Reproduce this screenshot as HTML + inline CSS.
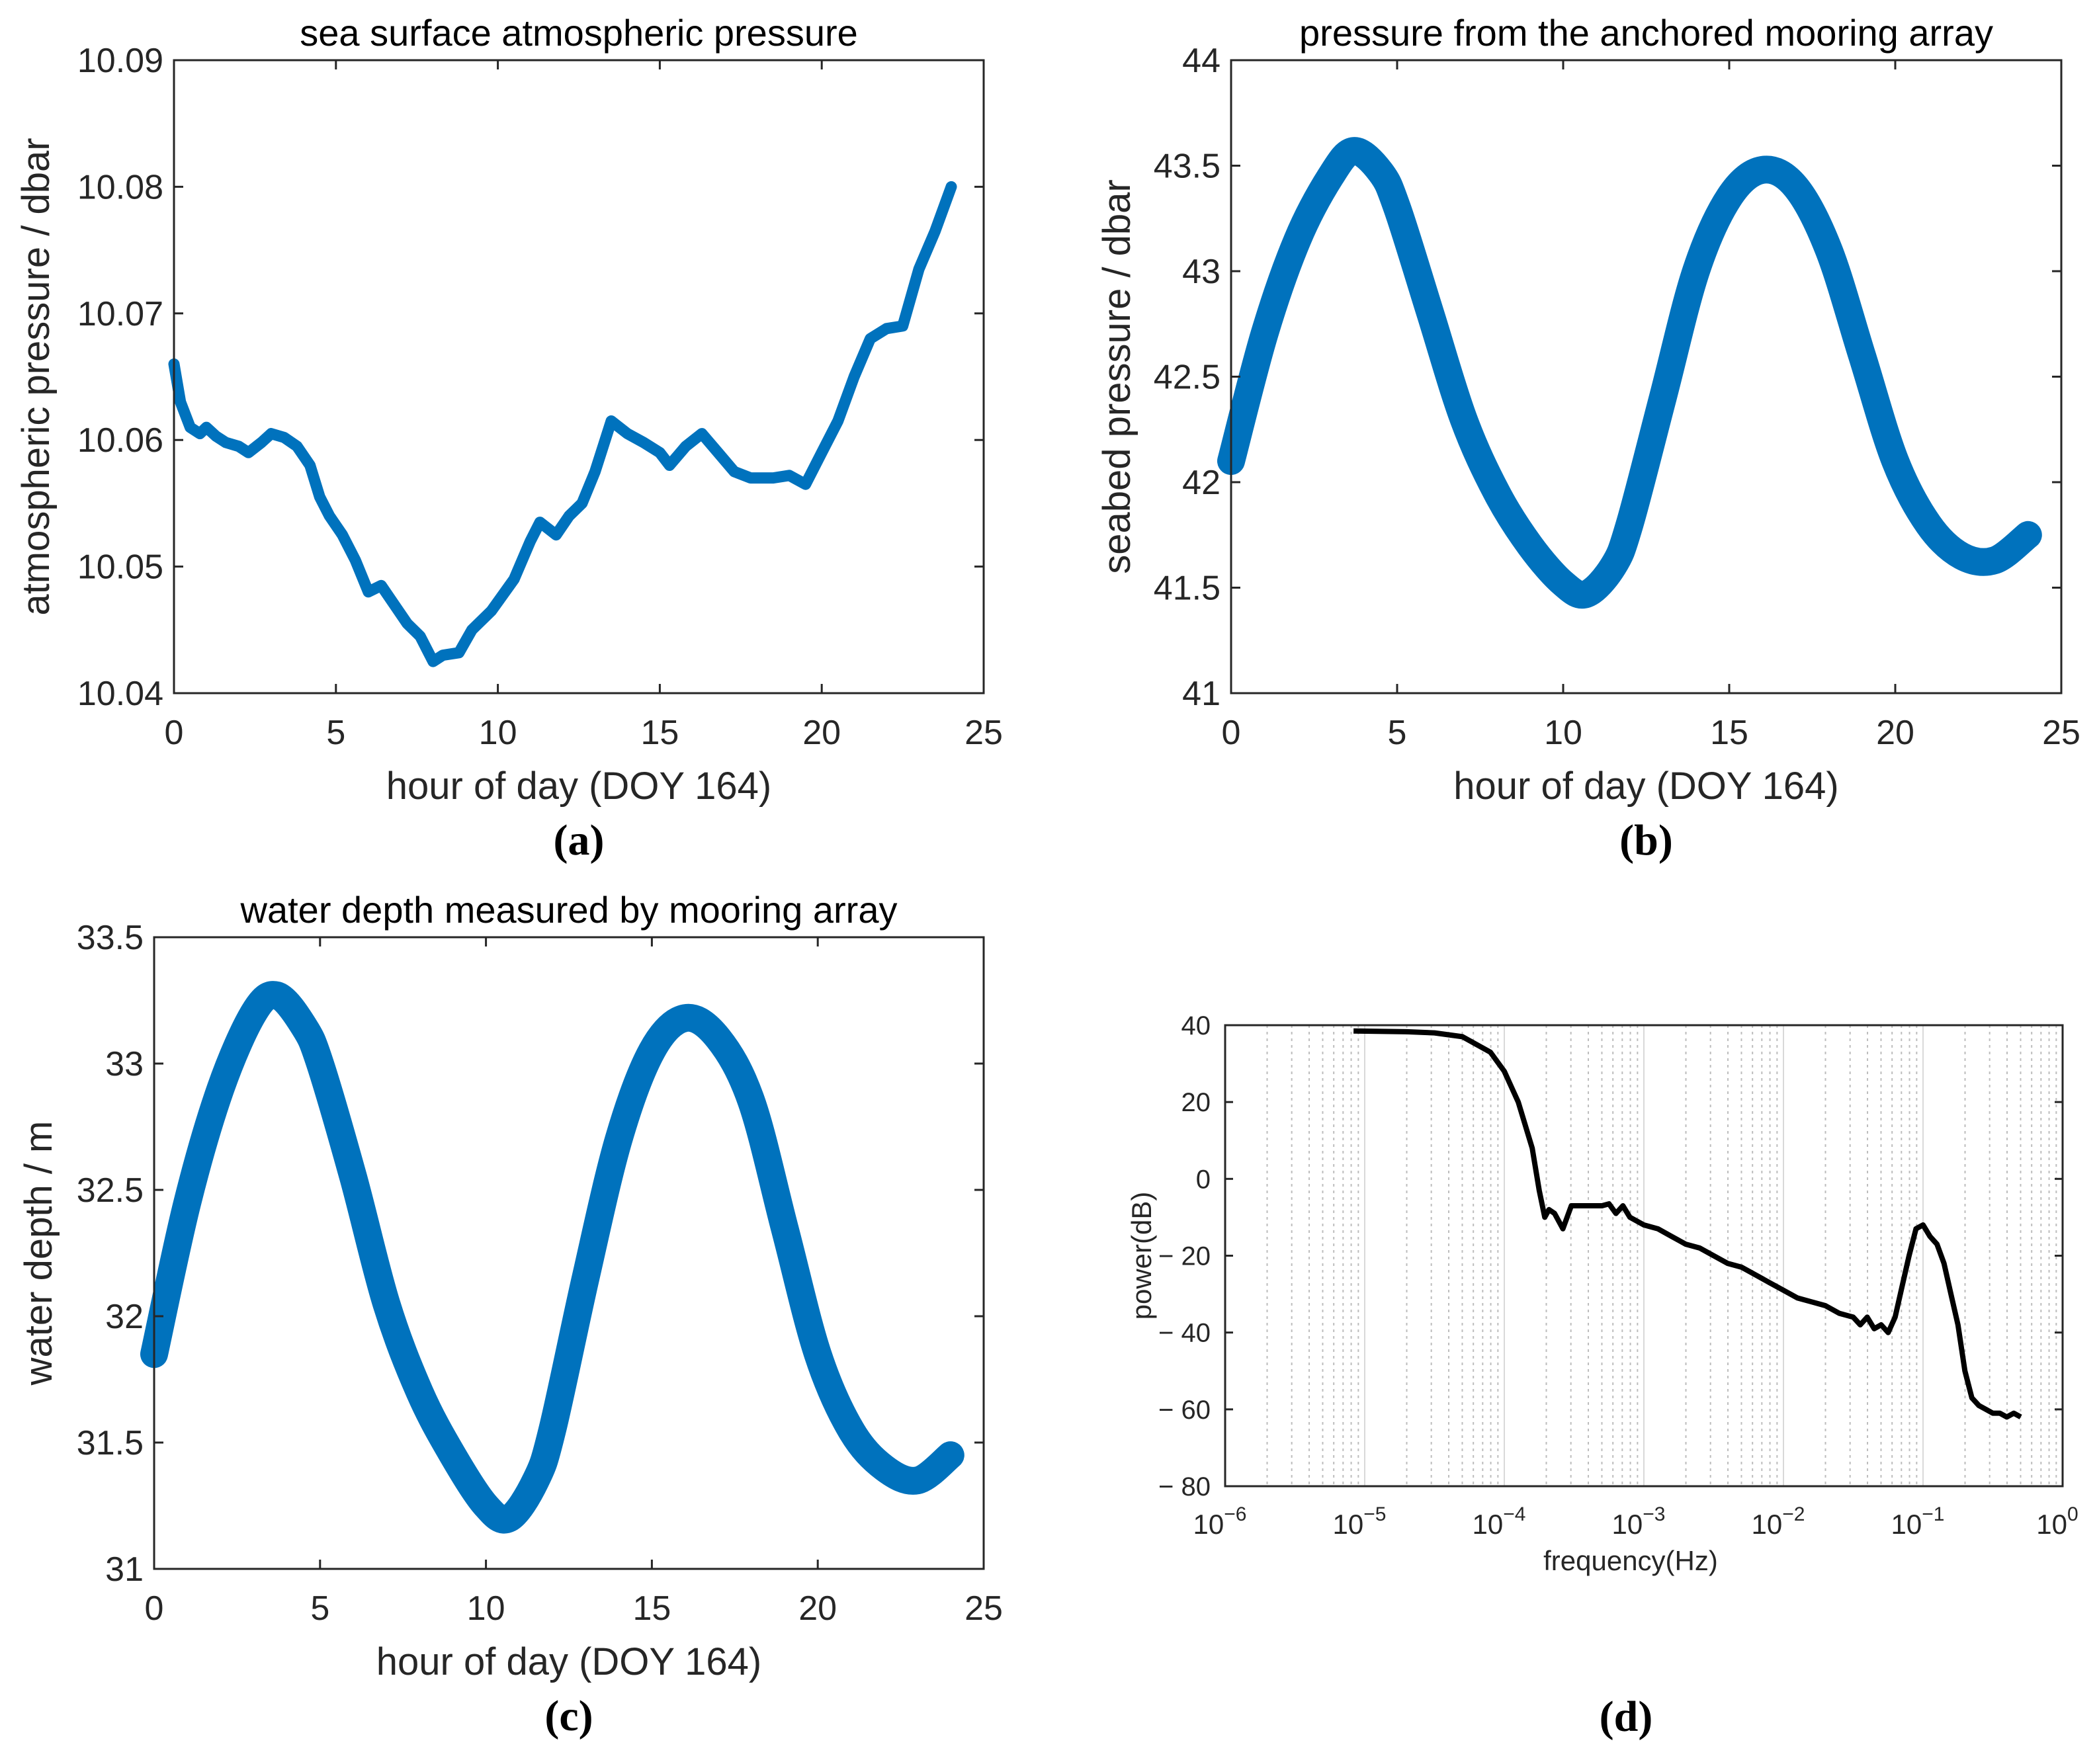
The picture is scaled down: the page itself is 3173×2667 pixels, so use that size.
<!DOCTYPE html>
<html><head><meta charset="utf-8"><style>
html,body{margin:0;padding:0;background:#fff;}
svg{display:block;font-family:"Liberation Sans",Arial,sans-serif;}
</style></head><body>
<svg id="fig" width="3173" height="2667" viewBox="0 0 3173 2667" xmlns="http://www.w3.org/2000/svg"></svg>
<script>
// ---- Panel (a) data ----
const aHours=[0,0.2,0.5,0.8,1,1.3,1.6,2,2.3,2.7,3,3.4,3.8,4.2,4.5,4.8,5.2,5.6,6,6.4,6.8,7.2,7.6,8,8.3,8.8,9.2,9.8,10.5,11,11.3,11.8,12.2,12.6,13,13.5,14,14.5,15,15.3,15.8,16.3,16.8,17.3,17.8,18.5,19,19.5,20,20.5,21,21.5,22,22.5,23,23.5,24];
const aValues=[10.066,10.063,10.061,10.0605,10.061,10.0603,10.0598,10.0595,10.059,10.0598,10.0605,10.0602,10.0595,10.058,10.0555,10.054,10.0525,10.0505,10.048,10.0485,10.047,10.0455,10.0445,10.0425,10.043,10.0432,10.045,10.0465,10.049,10.052,10.0535,10.0525,10.054,10.055,10.0575,10.0615,10.0605,10.0598,10.059,10.058,10.0595,10.0605,10.059,10.0575,10.057,10.057,10.0572,10.0565,10.059,10.0615,10.065,10.068,10.0688,10.069,10.0735,10.0765,10.080];
// ---- Panel (b) data ----
const bHours=[0,1,2,3,3.7,4.5,5,6,7,8,9,10,10.7,11.5,12,13,14,15,16,17,18,19,20,21,22,23,24];
const bValues=[42.1,42.7,43.15,43.45,43.57,43.47,43.3,42.8,42.3,41.95,41.7,41.52,41.47,41.6,41.8,42.4,43.0,43.35,43.48,43.4,43.1,42.6,42.1,41.8,41.65,41.63,41.75];
// ---- Panel (c) data ----
const cHours=[0,1,2,3,3.7,4.5,5,6,7,8,9,10,10.7,11.5,12,13,14,15,16,17,18,19,20,21,22,23,24];
const cValues=[31.85,32.45,32.9,33.2,33.27,33.15,33.0,32.55,32.05,31.7,31.45,31.25,31.2,31.35,31.55,32.15,32.7,33.05,33.18,33.1,32.85,32.35,31.85,31.55,31.4,31.35,31.45];
// ---- Panel (d) data ----
const dLogFreq=[-5.08,-4.7,-4.5,-4.3,-4.1,-4.0,-3.9,-3.8,-3.75,-3.71,-3.68,-3.64,-3.58,-3.52,-3.45,-3.3,-3.25,-3.2,-3.15,-3.1,-3.0,-2.9,-2.8,-2.7,-2.6,-2.5,-2.4,-2.3,-2.2,-2.1,-2,-1.9,-1.8,-1.7,-1.6,-1.5,-1.45,-1.4,-1.35,-1.3,-1.25,-1.2,-1.15,-1.1,-1.05,-1.0,-0.95,-0.9,-0.85,-0.8,-0.75,-0.7,-0.65,-0.6,-0.55,-0.5,-0.45,-0.4,-0.35,-0.3];
const dPower=[38.5,38.3,38,37,33,28,20,8,-3,-10,-8,-9,-13,-7,-7,-7,-6.5,-9,-7,-10,-12,-13,-15,-17,-18,-20,-22,-23,-25,-27,-29,-31,-32,-33,-35,-36,-38,-36,-39,-38,-40,-36,-28,-20,-13,-12,-15,-17,-22,-30,-38,-50,-57,-59,-60,-61,-61,-62,-61,-62];

const NS="http://www.w3.org/2000/svg";
const svg=document.getElementById('fig');
function mk(tag,attrs,parent){const e=document.createElementNS(NS,tag);for(const k in attrs)e.setAttribute(k,attrs[k]);(parent||svg).appendChild(e);return e;}
function smoothPath(P){let d='M'+P[0][0].toFixed(1)+' '+P[0][1].toFixed(1);
  for(let i=0;i<P.length-1;i++){const p0=P[Math.max(0,i-1)],p1=P[i],p2=P[i+1],p3=P[Math.min(P.length-1,i+2)];
    const c1=[p1[0]+(p2[0]-p0[0])/6,p1[1]+(p2[1]-p0[1])/6],c2=[p2[0]-(p3[0]-p1[0])/6,p2[1]-(p3[1]-p1[1])/6];
    d+=` C${c1[0].toFixed(1)} ${c1[1].toFixed(1)} ${c2[0].toFixed(1)} ${c2[1].toFixed(1)} ${p2[0].toFixed(1)} ${p2[1].toFixed(1)}`;}
  return d;}

function linPanel(o){
  const g=mk('g',{});
  
  
  const X=v=>o.L+(v-o.x0)/(o.x1-o.x0)*(o.R-o.L);
  const Y=v=>o.B-(v-o.y0)/(o.y1-o.y0)*(o.B-o.T);
  const P=o.xs.map((x,i)=>[X(x),Y(o.ys[i])]);
  const d=o.smooth?smoothPath(P):P.map((p,i)=>(i?'L':'M')+p[0].toFixed(1)+' '+p[1].toFixed(1)).join(' ');
  const ln=mk('path',{d:d,fill:'none',stroke:'#0072BD','stroke-width':o.sw,'stroke-linejoin':'round','stroke-linecap':'round'},g);
  
  
  const box=mk('rect',{x:o.L,y:o.T,width:o.R-o.L,height:o.B-o.T,fill:'none',stroke:'#262626','stroke-width':3},g);
  
  
  o.xt.forEach(v=>{const x=X(v);
    mk('line',{x1:x,x2:x,y1:o.B,y2:o.B-14,stroke:'#262626','stroke-width':3},g);
    mk('line',{x1:x,x2:x,y1:o.T,y2:o.T+14,stroke:'#262626','stroke-width':3},g);
    const t=mk('text',{x:x,y:o.B+77,'text-anchor':'middle','font-size':52,fill:'#262626'},g);t.textContent=v;
    
    });
  o.yt.forEach((v,i)=>{const y=Y(v);
    mk('line',{x1:o.L,x2:o.L+14,y1:y,y2:y,stroke:'#262626','stroke-width':3},g);
    mk('line',{x1:o.R,x2:o.R-14,y1:y,y2:y,stroke:'#262626','stroke-width':3},g);
    const t=mk('text',{x:o.L-16,y:y+18,'text-anchor':'end','font-size':52,fill:'#262626'},g);t.textContent=o.ytl[i];
    
    });
  const ti=mk('text',{x:(o.L+o.R)/2,y:o.T-22,'text-anchor':'middle','font-size':56,fill:'#000'},g);ti.textContent=o.title;
  
  
  const xl=mk('text',{x:(o.L+o.R)/2,y:o.B+160,'text-anchor':'middle','font-size':58,fill:'#262626'},g);xl.textContent='hour of day (DOY 164)';
  
  
  const yl=mk('text',{x:0,y:0,'text-anchor':'middle','font-size':58,fill:'#262626',transform:`translate(${o.ylx},${(o.T+o.B)/2}) rotate(-90)`},g);yl.textContent=o.ylabel;
  
  
  const pl=mk('text',{x:(o.L+o.R)/2,y:o.B+244,'text-anchor':'middle','font-size':66,'font-family':'Liberation Serif,serif','font-weight':'bold',fill:'#000'},g);pl.textContent=o.plabel;
  
  
}

linPanel({name:'panel-a',L:263,R:1487,T:91,B:1048,x0:0,x1:25,y0:10.04,y1:10.09,xs:aHours,ys:aValues,sw:17,smooth:false,
  xt:[0,5,10,15,20,25],yt:[10.04,10.05,10.06,10.07,10.08,10.09],ytl:['10.04','10.05','10.06','10.07','10.08','10.09'],
  title:'sea surface atmospheric pressure',ylabel:'atmospheric pressure / dbar',ylx:74,plabel:'(a)'});
linPanel({name:'panel-b',L:1861,R:3116,T:91,B:1048,x0:0,x1:25,y0:41,y1:44,xs:bHours,ys:bValues,sw:42,smooth:true,
  xt:[0,5,10,15,20,25],yt:[41,41.5,42,42.5,43,43.5,44],ytl:['41','41.5','42','42.5','43','43.5','44'],
  title:'pressure from the anchored mooring array',ylabel:'seabed pressure / dbar',ylx:1708,plabel:'(b)'});
linPanel({name:'panel-c',L:233,R:1487,T:1417,B:2372,x0:0,x1:25,y0:31,y1:33.5,xs:cHours,ys:cValues,sw:42,smooth:true,
  xt:[0,5,10,15,20,25],yt:[31,31.5,32,32.5,33,33.5],ytl:['31','31.5','32','32.5','33','33.5'],
  title:'water depth measured by mooring array',ylabel:'water depth / m',ylx:78,plabel:'(c)'});

// Panel d
(function(){
  const L=1852,R=3118,T=1550,B=2247;
  const g=mk('g',{});
  
  
  const X=v=>L+(v+6)/6*(R-L);
  const Y=v=>B-(v+80)/120*(B-T);
  for(let e=-6;e<0;e++){for(let m=1;m<10;m++){const x=X(e+Math.log10(m));
    mk('line',{x1:x,x2:x,y1:T,y2:B,stroke:m===1?'#d9d9d9':'#bdbdbd','stroke-width':2,'stroke-dasharray':m===1?'none':'4 6'},g);}}
  const d=dLogFreq.map((x,i)=>(i?'L':'M')+X(x).toFixed(1)+' '+Y(dPower[i]).toFixed(1)).join(' ');
  const ln=mk('path',{d:d,fill:'none',stroke:'#000','stroke-width':8,'stroke-linejoin':'round'},g);
  
  
  const box=mk('rect',{x:L,y:T,width:R-L,height:B-T,fill:'none',stroke:'#262626','stroke-width':3},g);
  
  
  const yt=[-80,-60,-40,-20,0,20,40];
  yt.forEach(v=>{const y=Y(v);
    mk('line',{x1:L,x2:L+12,y1:y,y2:y,stroke:'#262626','stroke-width':3},g);
    mk('line',{x1:R,x2:R-12,y1:y,y2:y,stroke:'#262626','stroke-width':3},g);
    const t=mk('text',{x:L-22,y:y+14,'text-anchor':'end','font-size':40,fill:'#262626'},g);t.textContent=v<0?'\u2212 '+(-v):String(v);
    
    });
  for(let e=-6;e<=0;e++){const x=X(e);
    const t=mk('text',{x:x-8,y:B+72,'text-anchor':'middle','font-size':42,fill:'#262626'},g);
    
    
    const a=mk('tspan',{},t);a.textContent='10';
    const s=mk('tspan',{dy:-20,'font-size':30},t);s.textContent=e===0?'0':'\u2212'+(-e);}
  const xl=mk('text',{x:(L+R)/2-20,y:B+127,'text-anchor':'middle','font-size':42,fill:'#262626'},g);xl.textContent='frequency(Hz)';
  
  
  const yl=mk('text',{x:0,y:0,'text-anchor':'middle','font-size':42,fill:'#262626',transform:`translate(1740,${(T+B)/2}) rotate(-90)`},g);yl.textContent='power(dB)';
  
  
  const pl=mk('text',{x:2458,y:2617,'text-anchor':'middle','font-size':66,'font-family':'Liberation Serif,serif','font-weight':'bold',fill:'#000'},g);pl.textContent='(d)';
  
  
})();
</script>
</body></html>
